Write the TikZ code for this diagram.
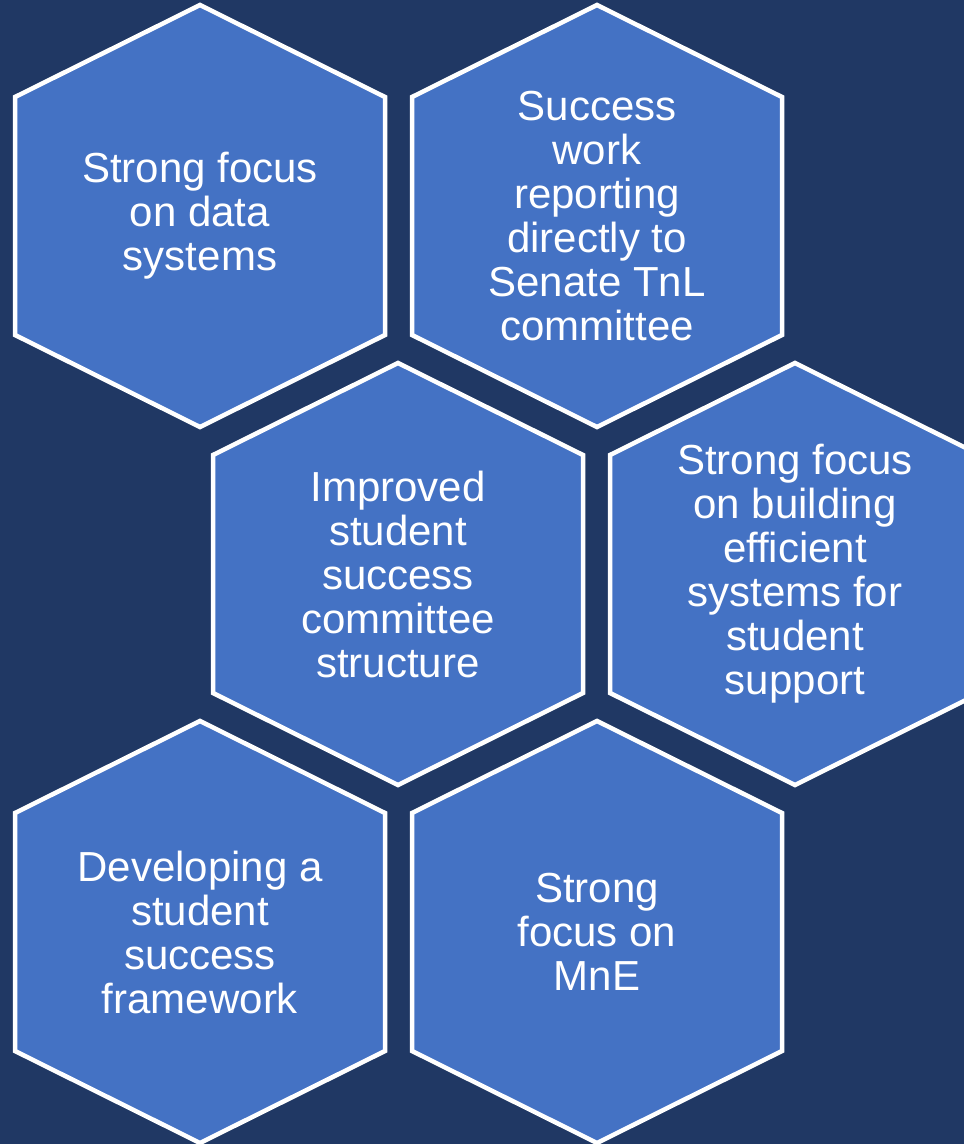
\documentclass[tikz,border=0pt]{standalone}
\usepackage{fontspec}
\setmainfont{Liberation Sans}
\definecolor{bgnavy}{HTML}{203864}
\definecolor{hexblue}{HTML}{4472C4}
\tikzset{
  hexbox/.style={fill=hexblue, draw=white, line width=4.5pt, line join=miter},
  hextext/.style={text=white, align=center, inner sep=0pt,
    font=\fontsize{42}{44}\selectfont}
}
\newcommand{\hexcell}[4]{%
  \begin{scope}[shift={(#2,-#3)}]
    \draw[hexbox] (0,211) -- (185,119) -- (185,-119) -- (0,-211) -- (-185,-119) -- (-185,119) -- cycle;
    \node[hextext] (#1) at (0,0) {#4};
  \end{scope}}
\begin{document}
\begin{tikzpicture}[x=1pt,y=1pt]
  \useasboundingbox (0,0) rectangle (964,-1144);
  \clip (0,0) rectangle (964,-1144);
  \fill[bgnavy] (0,0) rectangle (964,-1144);
  \hexcell{h1}{200}{216}{Strong focus\\on data\\systems}
  \hexcell{h2}{597}{216}{Success\\work\\reporting\\directly to\\Senate TnL\\committee}
  \hexcell{h3}{398}{574}{Improved\\student\\success\\committee\\structure}
  \hexcell{h4}{795}{574}{Strong focus\\on building\\efficient\\systems for\\student\\support}
  \hexcell{h5}{200}{932}{Developing a\\student\\success\\framework}
  \hexcell{h6}{597}{932}{Strong\\focus on\\MnE}
\end{tikzpicture}
\end{document}
